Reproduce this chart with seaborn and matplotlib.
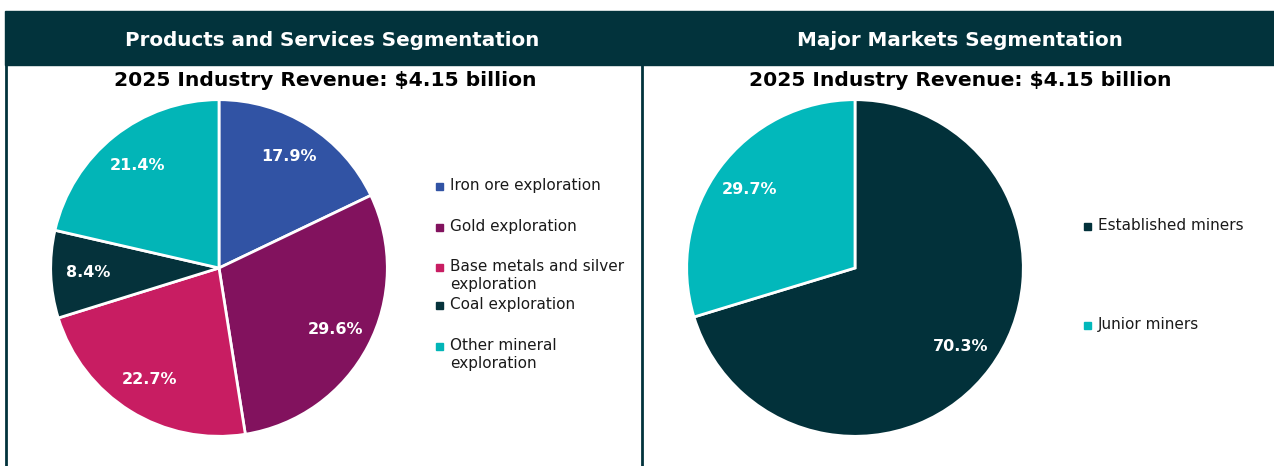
import matplotlib
matplotlib.use("Agg")
import matplotlib.pyplot as plt
from matplotlib.patches import Rectangle
from matplotlib.lines import Line2D
import seaborn as sns

# ---- data ----
product_labels = ["Iron ore exploration", "Gold exploration",
                  "Base metals and silver\nexploration", "Coal exploration",
                  "Other mineral\nexploration"]
product_shares = [17.9, 29.6, 22.7, 8.4, 21.4]
product_colors = ["#3153A4", "#82125E", "#C81D62", "#05323B", "#02B5B7"]

market_labels = ["Established miners", "Junior miners"]
market_shares = [70.3, 29.7]
market_colors = ["#02313A", "#02B8BB"]

left_title = "Products and Services Segmentation"
right_title = "Major Markets Segmentation"
subtitle = "2025 Industry Revenue: $4.15 billion"

# ---- style ----
sns.set_theme(style="white")
plt.rcParams["font.family"] = ["DejaVu Sans"]

W, H = 1274, 466
DPI = 100
fig = plt.figure(figsize=(W / DPI, H / DPI), dpi=DPI)
fig.patch.set_facecolor("white")

DARK = "#02333C"


def fx(px):
    return px / W


def fy(py):
    return 1 - py / H


# header band and panel borders
fig.add_artist(Rectangle((fx(5), fy(65)), fx(1274) - fx(5), fy(11) - fy(65),
                         transform=fig.transFigure, color=DARK, zorder=0))
for xpix in (6, 642):
    fig.add_artist(Line2D([fx(xpix), fx(xpix)], [fy(65), fy(466)],
                          transform=fig.transFigure, color=DARK, lw=2))

fig.text(fx(332), fy(40), left_title, color="white", fontsize=14.3,
         fontweight="bold", ha="center", va="center")
fig.text(fx(960), fy(40), right_title, color="white", fontsize=14.3,
         fontweight="bold", ha="center", va="center")
fig.text(fx(325), fy(80), subtitle, color="black", fontsize=14.6,
         fontweight="bold", ha="center", va="center")
fig.text(fx(960), fy(80), subtitle, color="black", fontsize=14.6,
         fontweight="bold", ha="center", va="center")


def draw_pie(cx, cy, r, values, colors):
    ax = fig.add_axes([fx(cx - r), fy(cy + r), fx(2 * r), fy(cy - r) - fy(cy + r)])
    ax.pie(values, colors=colors, startangle=90, counterclock=False, radius=1,
           autopct="%.1f%%", pctdistance=0.78,
           wedgeprops=dict(edgecolor="white", linewidth=2),
           textprops=dict(color="white", fontsize=11.5, fontweight="bold"))
    ax.set_xlim(-1.01, 1.01)
    ax.set_ylim(-1.01, 1.01)
    ax.set_aspect("equal")
    ax.axis("off")
    return ax


draw_pie(219, 268, 170, product_shares, product_colors)
draw_pie(855, 268, 170, market_shares, market_colors)


def draw_legend(x, ys, labels, colors):
    for y, lab, col in zip(ys, labels, colors):
        fig.add_artist(Rectangle((fx(x - 4), fy(y + 3)), fx(7), fy(0) - fy(7),
                                 transform=fig.transFigure, color=col))
        fig.text(fx(x + 10), fy(y - 9), lab, color="#1a1a1a", fontsize=11,
                 ha="left", va="top", linespacing=1.25)


draw_legend(440, [187, 228, 268, 306, 347], product_labels, product_colors)
draw_legend(1088, [227, 326], market_labels, market_colors)

fig.savefig("out.png", dpi=DPI, facecolor="white")
